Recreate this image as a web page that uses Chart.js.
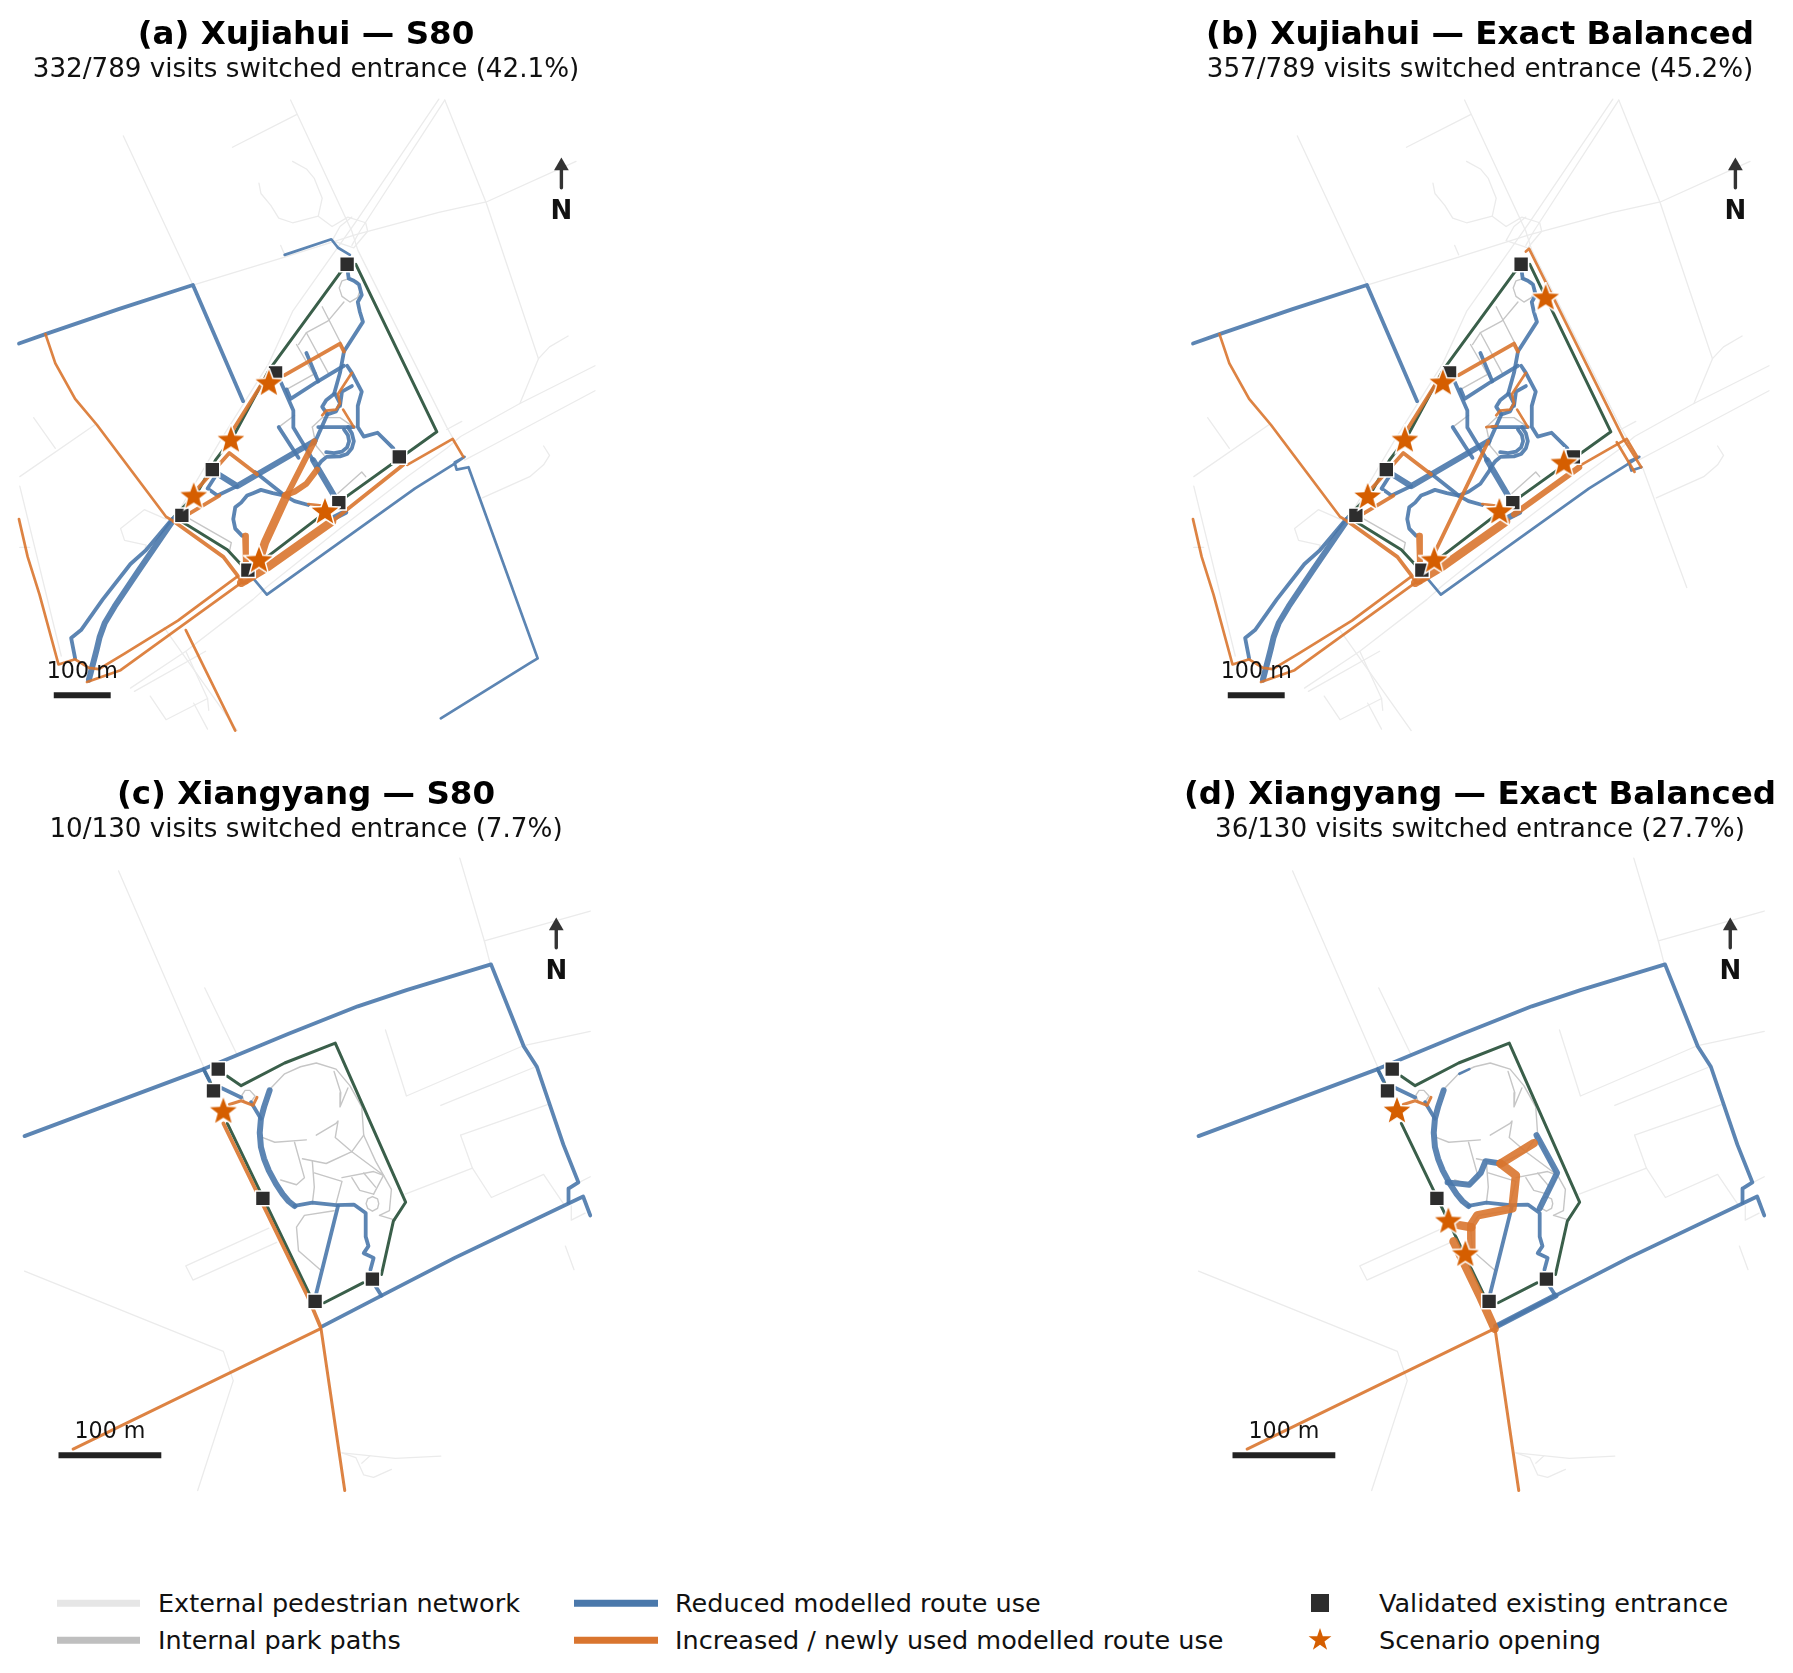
<!DOCTYPE html>
<html>
<head>
<meta charset="utf-8">
<title>Entrance switching maps</title>
<script src="https://cdn.jsdelivr.net/npm/chart.js@4/dist/chart.umd.min.js"></script>
<style>
  html, body { margin: 0; padding: 0; background: #fff; }
  body { position: relative; width: 1793px; height: 1673px; overflow: hidden; font-family: "DejaVu Sans", sans-serif; }
  canvas { position: absolute; }
  .key { position: absolute; font-size: 25.5px; line-height: 30px; color: #111; white-space: nowrap; transform: translateY(-50%); }
  .swatch { position: absolute; height: 6.5px; transform: translateY(-50%); }
  .marker { position: absolute; transform: translate(-50%, -50%); }
</style>
</head>
<body>
<canvas id="panelA"></canvas>
<canvas id="panelB"></canvas>
<canvas id="panelC"></canvas>
<canvas id="panelD"></canvas>

<div class="swatch" style="left:57px;top:1603px;width:83px;background:#e6e6e6"></div>
<div class="key" style="left:158px;top:1603px">External pedestrian network</div>
<div class="swatch" style="left:57px;top:1640px;width:83px;background:#bfbfbf"></div>
<div class="key" style="left:158px;top:1640px">Internal park paths</div>
<div class="swatch" style="left:574px;top:1603px;width:84px;background:#4a78ab"></div>
<div class="key" style="left:675px;top:1603px">Reduced modelled route use</div>
<div class="swatch" style="left:574px;top:1640px;width:84px;background:#d9752f"></div>
<div class="key" style="left:675px;top:1640px">Increased / newly used modelled route use</div>
<div class="marker" style="left:1320px;top:1603px;width:18px;height:18px;background:#2d2d2d"></div>
<div class="key" style="left:1379px;top:1603px">Validated existing entrance</div>
<svg class="marker" style="left:1320px;top:1640px" width="24" height="24" viewBox="-12 -12 24 24"><polygon fill="#d55e00" points="0,-12 2.8,-3.8 11.4,-3.7 4.5,1.5 7.1,9.7 0,4.8 -7.1,9.7 -4.5,1.5 -11.4,-3.7 -2.8,-3.8"/></svg>
<div class="key" style="left:1379px;top:1640px">Scenario opening</div>

<script>

// ---- Xujiahui ----
const xuExternal = [
  [[312,288],[488,604]],
  [[735,212],[890,490],[905,530],[1130,905],[1170,965]],
  [[588,312],[750,243]],
  [[1125,212],[1230,430],[1362,760],[1315,855]],
  [[1362,760],[1390,735],[1437,712]],
  [[1110,210],[900,470],[740,660],[680,770],[560,930],[440,1100]],
  [[1125,212],[910,490],[890,520]],
  [[1457,342],[1230,428],[1110,450],[900,497],[720,545],[488,604]],
  [[740,342],[775,358],[795,378],[815,420],[805,458],[740,472],[705,462],[685,435],[660,410],[655,388]],
  [[805,458],[840,480],[880,460],[925,472],[930,490],[895,525],[840,510],[860,480],[890,460]],
  [[710,520],[720,540]],
  [[1505,775],[1315,855],[1165,925],[1130,950],[1030,1010],[860,1120],[680,1240],[640,1270],[470,1380],[330,1458]],
  [[1505,828],[1220,955],[1175,975]],
  [[1168,893],[1130,910]],
  [[1220,1055],[1340,1010],[1375,985],[1390,965],[1375,945]],
  [[1185,990],[1297,1245]],
  [[380,1475],[420,1525],[525,1480],[470,1380]],
  [[340,1465],[520,1380]],
  [[525,1480],[528,1505]],
  [[490,1490],[525,1545]],
  [[415,1330],[600,1548]],
  [[50,1010],[240,900]],
  [[85,885],[140,950]],
  [[50,1030],[155,1390]],
  [[50,1160],[75,1160]],
  [[420,1100],[365,1080],[305,1120],[315,1145],[370,1155],[360,1175]]
];
const xuInternal = [
  [[858,610],[865,628],[885,640],[905,630],[912,612],[905,597],[885,590],[865,595],[858,610]],
  [[870,640],[830,680],[775,705],[830,790]],
  [[815,650],[870,740]],
  [[750,730],[805,810]],
  [[775,705],[755,730]],
  [[725,825],[800,790]],
  [[705,905],[745,880]],
  [[790,905],[815,885],[860,885],[895,905]],
  [[790,905],[800,945],[820,965]],
  [[855,1045],[915,1000],[925,1010]],
  [[460,1090],[585,1150],[580,1170]]
];
const xuBoundary = [[863,575],[680,785],[590,925],[545,975],[498,1045],[440,1095],[575,1165],[625,1210],[660,1190],[855,1065],[1105,915],[900,560]];
const xuEntrances = [[878,560],[697,790],[537,995],[460,1092],[627,1208],[857,1065],[1010,968]];

const xuReducedMid = [
  [[48,728],[115,708],[300,655],[488,604],[615,850]],
  [[435,1100],[370,1165],[330,1195],[260,1270],[205,1335],[180,1352],[190,1395]],
  [[880,578],[882,590],[895,595],[908,603],[915,625],[905,640],[910,660],[918,682],[870,745],[860,790],[845,835]],
  [[845,835],[825,848],[815,862],[828,878],[850,872],[860,855],[848,835]],
  [[828,878],[795,940]],
  [[870,775],[800,810],[735,845],[725,825]],
  [[775,748],[805,808]],
  [[878,775],[890,790],[915,830],[905,860],[905,905],[920,925],[955,917],[995,950]],
  [[890,818],[865,830],[860,860]],
  [[805,905],[895,905]],
  [[880,905],[890,918],[895,935],[890,950],[878,962],[860,967],[826,968],[812,978],[800,992]],
  [[870,910],[880,922],[883,935],[878,948],[865,957],[845,960],[825,958]],
  [[705,905],[755,970]],
  [[600,1030],[550,1050],[525,1035],[548,1005]],
  [[645,1000],[720,1050],[745,1062],[780,1070]],
  [[720,1050],[690,1045],[660,1038],[640,1045],[625,1050],[610,1065],[595,1075],[590,1100],[595,1120],[612,1135]],
  [[640,1225],[625,1205]],
  [[708,805],[742,870],[742,906],[792,975]]
];
const xuReducedWide = [
  [[440,1100],[350,1210],[290,1285],[265,1320],[252,1350],[245,1375],[225,1440]],
  [[792,975],[847,1053]],
  [[552,1005],[600,1030],[795,935]],
  [[838,1100],[873,1085]]
];
const xuIncreasedThin = [
  [[115,708],[140,770],[190,845],[245,900],[420,1095],[440,1105]],
  [[48,1100],[70,1180],[100,1260],[148,1408],[190,1397],[225,1415],[250,1418],[315,1385],[450,1315],[600,1222]],
  [[220,1445],[305,1420],[610,1235],[625,1235]],
  [[1030,985],[1145,930],[1172,968]],
  [[890,790],[855,835],[860,855],[850,868],[825,870],[815,880]],
  [[868,868],[895,905]],
  [[780,1068],[820,1072]]
];
const xuIncreasedMid = [
  [[440,1105],[565,1180],[615,1235],[640,1225]],
  [[720,795],[860,728],[870,745]],
  [[465,1095],[555,1050]],
  [[495,1040],[580,960],[650,1005]],
  [[590,910],[680,790]]
];
const xuIncreasedWide = [[[620,1135],[622,1190]]];

// (a) S80 only
const aReducedThin = [
  [[720,540],[838,507],[855,525],[885,540]],
  [[640,1225],[675,1260],[1050,1035],[1145,985],[1175,968],[1150,980],[1155,995],[1185,990],[1360,1395],[1340,1405],[1115,1522]]
];
const aIncreasedThin = [[[470,1335],[595,1548]]];
const aIncreasedMid = [[[840,1105],[870,1085],[1020,985]]];
const aIncreasedWide = [
  [[720,1050],[745,1042],[775,1025],[802,995]],
  [[795,935],[725,1050]]
];
const aIncreasedHeavy = [
  [[610,1235],[680,1200],[840,1105]],
  [[725,1050],[670,1150],[655,1190]]
];
const aOpenings = [[680,813],[584,933],[490,1052],[655,1188],[822,1085]];

// (b) Exact Balanced only
const bReducedThin = [
  [[640,1225],[675,1260],[1050,1035],[1145,985],[1177,968],[1150,978],[1157,997],[1182,990]]
];
const bReducedMid = [[[720,1050],[745,1042],[775,1025],[802,992]]];
const bIncreasedThin = [
  [[890,533],[898,527],[1137,930],[1182,990]],
  [[1120,937],[1165,1000]],
  [[790,905],[815,903]]
];
const bIncreasedMid = [[[795,935],[660,1170]]];
const bIncreasedWide = [[[860,1090],[1025,990]]];
const bIncreasedHeavy = [[[610,1235],[680,1200],[840,1105]]];
const bOpenings = [[940,632],[680,812],[584,933],[490,1053],[658,1188],[823,1085],[986,982]];

// ---- Xiangyang ----
const xyExternal = [
  [[300,235],[515,650]],
  [[518,483],[600,625]],
  [[1163,208],[1225,383],[1240,432]],
  [[1225,383],[1493,320]],
  [[975,572],[1028,712],[1325,605],[1493,575]],
  [[1115,732],[1355,650]],
  [[1165,795],[1385,730]],
  [[1165,795],[1195,865],[1243,927],[1375,878],[1425,940]],
  [[1195,865],[1025,920]],
  [[680,992],[470,1072],[488,1102],[700,1022]],
  [[62,1083],[565,1253],[590,1315],[500,1548]],
  [[1430,1030],[1452,1080]],
  [[1445,945],[1445,975],[1480,960]],
  [[1465,895],[1493,883]],
  [[865,1468],[900,1478],[920,1515],[945,1520],[990,1503]],
  [[865,1468],[1000,1480],[1115,1475]],
  [[915,1490],[935,1475]]
];
const xyInternal = [
  [[680,700],[720,665],[760,650],[800,642],[850,655],[885,690],[915,735],[920,795],[950,850],[990,910],[985,955],[960,965]],
  [[845,660],[862,705],[860,735],[880,695]],
  [[800,795],[850,770],[855,765],[848,800],[890,830],[920,795]],
  [[665,800],[695,810],[775,805]],
  [[745,810],[765,870],[770,885],[750,900],[710,890]],
  [[765,845],[825,855],[890,830]],
  [[790,850],[795,905],[790,940]],
  [[795,875],[865,893],[850,940]],
  [[865,885],[945,872],[970,880],[945,920]],
  [[890,885],[910,912],[945,920]],
  [[920,875],[950,905]],
  [[890,830],[970,880]],
  [[926,940],[930,930],[942,925],[955,930],[958,940],[955,950],[942,956],[930,950],[926,940]],
  [[612,710],[620,700],[632,700],[645,712],[632,728],[618,725],[612,710]],
  [[960,965],[1000,975]],
  [[845,955],[770,965],[750,990],[755,1040],[810,1080]]
];
const xyBoundary = [
  [[575,670],[610,690],[720,642],[848,600],[1026,937],[995,977],[965,1090]],
  [[820,1150],[918,1108]],
  [[515,655],[545,705]],
  [[575,770],[782,1130]]
];
const xyEntrances = [[552,655],[540,701],[665,929],[797,1147],[942,1100]];

const xyReducedMid = [
  [[62,797],[515,655],[730,580],[905,522],[1030,487],[1242,433],[1325,607],[1358,650],[1425,815],[1463,895],[1438,908],[1438,938]],
  [[815,1200],[965,1135],[1150,1055],[1475,925],[1493,965]],
  [[515,655],[530,680]],
  [[745,945],[790,938],[850,943],[895,942],[925,960],[925,1010],[932,1030],[920,1045],[945,1055],[937,1080]],
  [[855,945],[800,1130]],
  [[950,1115],[965,1135]],
  [[560,695],[610,715]],
  [[635,725],[660,760]]
];
const xyReducedWide = [[[682,700],[668,735],[660,760],[657,790],[660,820],[668,845],[680,870],[698,898],[715,920],[730,935],[745,945]]];
const xyIncreasedThin = [
  [[811,1205],[185,1460]],
  [[812,1205],[872,1548]],
  [[580,730],[610,722],[640,732],[650,715]]
];

// (c) S80 only
const cIncreasedMid = [[[565,770],[780,1140],[810,1200]]];
const cOpenings = [[565,745]];

// (d) Exact Balanced only
const dReducedThin = [[[722,665],[747,655]]];
const dReducedWide = [
  [[692,895],[747,900],[776,875],[788,850],[826,855]],
  [[917,795],[969,875],[925,950]],
  [[815,1200],[965,1135]]
];
const dIncreasedHeavy = [
  [[826,855],[865,880],[856,950],[767,965],[752,985],[752,1035]],
  [[826,855],[910,812]],
  [[707,1020],[776,1140],[811,1205]],
  [[717,985],[752,990]]
];
const dOpenings = [[564,744],[694,978],[737,1048]];

// Scale bars (100 m) and north arrow
const xuScaleBar = [[136,1473],[280,1473]];
const xyScaleBar = [[148,1473],[408,1473]];
const xuNorthShaft = [[1420,352],[1420,398]];
const xyNorthShaft = [[1407,352],[1407,398]];

const titles = ['(a) Xujiahui — S80', '(b) Xujiahui — Exact Balanced', '(c) Xiangyang — S80', '(d) Xiangyang — Exact Balanced'];
const subtitles = [
  '332/789 visits switched entrance (42.1%)',
  '357/789 visits switched entrance (45.2%)',
  '10/130 visits switched entrance (7.7%)',
  '36/130 visits switched entrance (27.7%)'
];

// Colors
const externalColor = '#ebebeb';
const internalColor = '#c6c6c6';
const boundaryColor = '#3a5f4a';
const reducedColor = 'rgba(74, 120, 171, 0.9)';
const increasedColor = 'rgba(217, 117, 47, 0.9)';
const openingColor = '#d55e00';
const entranceColor = '#2d2d2d';

// Line weights in px
const weights = { thin: 2.7, mid: 3.8, wide: 6, heavy: 8.5 };

// Canvas size of one panel and the height taken by title + subtitle
const panelW = 612, panelH = 740;
const titleSize = 32.5, subtitleSize = 26.2;
const headerH = 19 + titleSize + 6 + subtitleSize + 2;

Chart.defaults.font.family = '"DejaVu Sans", sans-serif';

// Five pointed star, Chart.js only has an asterisk under that name
function makeStar(radius) {
  const pad = 2;
  const size = (radius + pad) * 2;
  const c = document.createElement('canvas');
  c.width = size; c.height = size;
  const g = c.getContext('2d');
  g.translate(size / 2, size / 2);
  g.beginPath();
  for (let i = 0; i < 10; i++) {
    const r = i % 2 ? radius * 0.42 : radius;
    const a = -Math.PI / 2 + i * Math.PI / 5;
    g.lineTo(r * Math.cos(a), r * Math.sin(a));
  }
  g.closePath();
  g.lineJoin = 'miter';
  g.strokeStyle = '#fff';
  g.lineWidth = 3;
  g.stroke();
  g.fillStyle = openingColor;
  g.fill();
  return c;
}
const starImage = makeStar(14);

const toXY = pts => pts.map(p => ({ x: p[0], y: p[1] }));

function lines(groups, color, width) {
  return groups.map(pts => ({
    data: toXY(pts),
    showLine: true,
    borderColor: color,
    borderWidth: width,
    borderJoinStyle: 'round',
    borderCapStyle: 'round',
    tension: 0,
    pointRadius: 0
  }));
}

function markers(pts, style, radius, fill, edge, edgeWidth) {
  return {
    data: toXY(pts),
    showLine: false,
    pointStyle: style,
    pointRadius: radius,
    pointBackgroundColor: fill,
    pointBorderColor: edge,
    pointBorderWidth: edgeWidth
  };
}

// Text that belongs to the map: scale bar label and north letter
const mapText = {
  id: 'mapText',
  afterDatasetsDraw(chart, args, opts) {
    const { ctx, scales } = chart;
    ctx.save();
    ctx.textAlign = 'center';
    ctx.textBaseline = 'middle';
    ctx.fillStyle = '#111';
    ctx.font = '22.2px "DejaVu Sans"';
    ctx.fillText('100 m', scales.x.getPixelForValue((opts.bar[0][0] + opts.bar[1][0]) / 2), scales.y.getPixelForValue(1425));
    ctx.font = 'bold 26px "DejaVu Sans"';
    ctx.fillText('N', scales.x.getPixelForValue(opts.north[0][0]), scales.y.getPixelForValue(450));
    ctx.restore();
  }
};

function drawPanel(id, index, left, top, layers, entrances, openings, bar, north) {
  const canvas = document.getElementById(id);
  canvas.width = panelW;
  canvas.height = panelH;
  canvas.style.left = left + 'px';
  canvas.style.top = top + 'px';
  canvas.style.width = panelW + 'px';
  canvas.style.height = panelH + 'px';

  const datasets = [
    ...layers,
    ...lines([bar], '#222', 6).map(d => ({ ...d, borderCapStyle: 'butt' })),
    ...lines([north], '#333', 3.4).map(d => ({ ...d, borderCapStyle: 'butt' })),
    markers([north[0]], 'triangle', 8.5, '#333', '#333', 0),
    markers(entrances, 'rect', 10.5, entranceColor, '#fff', 1.5),
    markers(openings, starImage, 14, openingColor, '#fff', 0)
  ];

  new Chart(canvas, {
    type: 'scatter',
    // Chart.js paints the first dataset last, so flip to keep bottom-up order
    data: { datasets: datasets.reverse() },
    plugins: [mapText],
    options: {
      responsive: false,
      animation: false,
      devicePixelRatio: 1,
      layout: { padding: 0, autoPadding: false },
      plugins: {
        legend: { display: false },
        tooltip: { enabled: false },
        title: {
          display: true,
          text: titles[index],
          color: '#000',
          font: { size: titleSize, weight: 'bold', lineHeight: 1 },
          padding: { top: 19, bottom: 6 }
        },
        subtitle: {
          display: true,
          text: subtitles[index],
          color: '#111',
          font: { size: subtitleSize, weight: 'normal', lineHeight: 1 },
          padding: { top: 0, bottom: 2 }
        },
        mapText: { bar, north }
      },
      scales: {
        // keeps 1 px = 2.529 map units across and 2.119 down, below the header
        x: { display: false, min: 0, max: 1548 },
        y: { display: false, reverse: true, min: headerH * 1568 / panelH, max: 1568 }
      }
    }
  });
}

function xuBase() {
  return [
    ...lines(xuExternal, externalColor, 1.3),
    ...lines(xuInternal, internalColor, 1.4),
    ...lines([xuBoundary.concat([xuBoundary[0]])], boundaryColor, 3)
  ];
}
function xyBase() {
  return [
    ...lines(xyExternal, externalColor, 1.3),
    ...lines(xyInternal, internalColor, 1.4),
    ...lines(xyBoundary, boundaryColor, 3)
  ];
}

const dxBoth = 1174, dyBoth = 760;

drawPanel('panelA', 0, 0, 0, [
  ...xuBase(),
  ...lines(aReducedThin, reducedColor, weights.thin),
  ...lines(xuReducedMid, reducedColor, weights.mid),
  ...lines(xuReducedWide, reducedColor, weights.wide),
  ...lines(xuIncreasedThin.concat(aIncreasedThin), increasedColor, weights.thin),
  ...lines(xuIncreasedMid.concat(aIncreasedMid), increasedColor, weights.mid),
  ...lines(xuIncreasedWide.concat(aIncreasedWide), increasedColor, weights.wide),
  ...lines(aIncreasedHeavy, increasedColor, weights.heavy)
], xuEntrances, aOpenings, xuScaleBar, xuNorthShaft);

drawPanel('panelB', 1, dxBoth, 0, [
  ...xuBase(),
  ...lines(bReducedThin, reducedColor, weights.thin),
  ...lines(xuReducedMid.concat(bReducedMid), reducedColor, weights.mid),
  ...lines(xuReducedWide, reducedColor, weights.wide),
  ...lines(xuIncreasedThin.concat(bIncreasedThin), increasedColor, weights.thin),
  ...lines(xuIncreasedMid.concat(bIncreasedMid), increasedColor, weights.mid),
  ...lines(xuIncreasedWide.concat(bIncreasedWide), increasedColor, weights.wide),
  ...lines(bIncreasedHeavy, increasedColor, weights.heavy)
], xuEntrances, bOpenings, xuScaleBar, xuNorthShaft);

drawPanel('panelC', 2, 0, dyBoth, [
  ...xyBase(),
  ...lines(xyReducedMid, reducedColor, weights.mid),
  ...lines(xyReducedWide, reducedColor, weights.wide),
  ...lines(xyIncreasedThin, increasedColor, weights.thin + 0.3),
  ...lines(cIncreasedMid, increasedColor, weights.mid)
], xyEntrances, cOpenings, xyScaleBar, xyNorthShaft);

drawPanel('panelD', 3, dxBoth, dyBoth, [
  ...xyBase(),
  ...lines(dReducedThin, reducedColor, weights.thin),
  ...lines(xyReducedMid, reducedColor, weights.mid),
  ...lines(xyReducedWide.concat(dReducedWide), reducedColor, weights.wide),
  ...lines(xyIncreasedThin, increasedColor, weights.thin + 0.3),
  ...lines(dIncreasedHeavy, increasedColor, weights.heavy)
], xyEntrances, dOpenings, xyScaleBar, xyNorthShaft);
</script>
</body>
</html>
